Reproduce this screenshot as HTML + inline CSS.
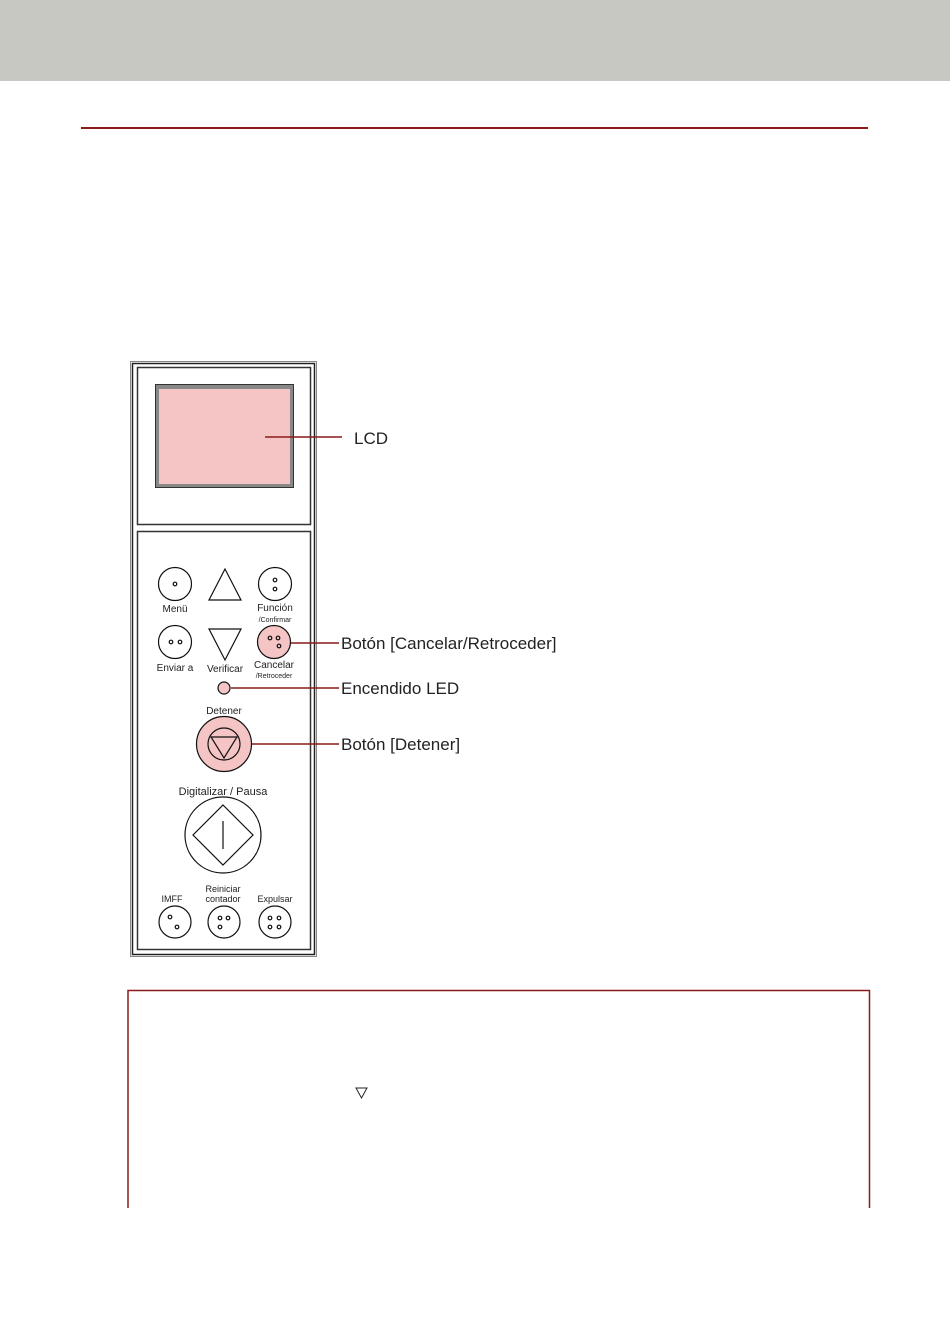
<!DOCTYPE html>
<html><head><meta charset="utf-8"><style>
html,body{margin:0;padding:0;background:#fff;}
svg{display:block}
</style></head><body>
<svg width="950" height="1344" viewBox="0 0 950 1344" xmlns="http://www.w3.org/2000/svg" font-family="Liberation Sans, sans-serif">
<rect x="0" y="0" width="950" height="81" fill="#c8c8c3"/>
<rect x="81" y="127" width="787" height="2" fill="#8b1a1a"/>
<!-- panel -->
<rect x="130.5" y="361.5" width="186" height="595" fill="#fff" stroke="#888" stroke-width="1"/>
<rect x="132.5" y="363.5" width="182" height="591" fill="#fff" stroke="#222" stroke-width="1.5"/>
<rect x="137.5" y="367.5" width="173" height="157" fill="#fff" stroke="#333" stroke-width="1.5"/>
<rect x="155.5" y="384.5" width="138" height="103" fill="#888" stroke="#333" stroke-width="1"/>
<rect x="159" y="389" width="131" height="95" fill="#f5c4c4"/>
<rect x="137.5" y="531.5" width="173" height="418" fill="#fff" stroke="#333" stroke-width="1.5"/>
<g fill="none" stroke="#111" stroke-width="1.2">
<circle cx="175" cy="584" r="16.5"/><circle cx="175" cy="584" r="1.8"/>
<polygon points="225,569 209,600 241,600"/>
<circle cx="275" cy="584" r="16.5"/><circle cx="275" cy="580" r="1.8"/><circle cx="275" cy="589" r="1.8"/>
<circle cx="175" cy="642" r="16.5"/><circle cx="171" cy="642" r="1.8"/><circle cx="180" cy="642" r="1.8"/>
<polygon points="209,629 241,629 225,660"/>
<circle cx="274" cy="642" r="16.5" fill="#f5c4c4"/><circle cx="270" cy="638" r="1.8"/><circle cx="278" cy="638" r="1.8"/><circle cx="279" cy="646" r="1.8"/>
<circle cx="224" cy="688" r="6" fill="#f5c4c4"/>
<circle cx="224" cy="744" r="27.5" fill="#f5c4c4"/>
<circle cx="224" cy="744" r="16"/>
<polygon points="211,737 237,737 224,758"/>
<circle cx="223" cy="835" r="38"/>
<polygon points="223,805 253,835 223,865 193,835"/>
<line x1="223" y1="821" x2="223" y2="849"/>
<circle cx="175" cy="922" r="16"/><circle cx="170" cy="917" r="1.8"/><circle cx="177" cy="927" r="1.8"/>
<circle cx="224" cy="922" r="16"/><circle cx="220" cy="918" r="1.8"/><circle cx="228" cy="918" r="1.8"/><circle cx="220" cy="927" r="1.8"/>
<circle cx="275" cy="922" r="16"/><circle cx="270" cy="918" r="1.8"/><circle cx="279" cy="918" r="1.8"/><circle cx="270" cy="927" r="1.8"/><circle cx="279" cy="927" r="1.8"/>
</g>
<g font-size="10" fill="#222" text-anchor="middle">
<text x="175" y="612">Menü</text>
<text x="275" y="611">Función</text>
<text x="275" y="622" font-size="7">/Confirmar</text>
<text x="175" y="671">Enviar a</text>
<text x="225" y="672">Verificar</text>
<text x="274" y="668">Cancelar</text>
<text x="274" y="678" font-size="7">/Retroceder</text>
<text x="224" y="714">Detener</text>
<text x="223" y="795" font-size="11">Digitalizar / Pausa</text>
<text x="172" y="902" font-size="9">IMFF</text>
<text x="223" y="892" font-size="9">Reiniciar</text>
<text x="223" y="902" font-size="9">contador</text>
<text x="275" y="902" font-size="9">Expulsar</text>
</g>
<g stroke="#8b1a1a" stroke-width="1.5">
<line x1="265" y1="437" x2="342" y2="437"/>
<line x1="291" y1="643" x2="339" y2="643"/>
<line x1="231" y1="688" x2="339" y2="688"/>
<line x1="252" y1="744" x2="339" y2="744"/>
</g>
<g font-size="17" fill="#222">
<text x="354" y="444">LCD</text>
<text x="341" y="649">Botón [Cancelar/Retroceder]</text>
<text x="341" y="694">Encendido LED</text>
<text x="341" y="750">Botón [Detener]</text>
</g>
<path d="M128,1208 V990.5 H869.5 V1208" fill="none" stroke="#8b1a1a" stroke-width="1.5"/>
<polygon points="356,1088 367,1088 361.5,1098" fill="none" stroke="#222" stroke-width="1"/>
</svg>
</body></html>
